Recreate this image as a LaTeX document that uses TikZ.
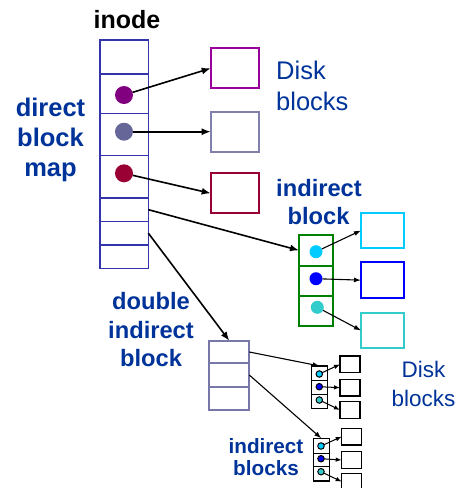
\documentclass[tikz,border=0pt]{standalone}
\usepackage{fontspec}
\setmainfont{Liberation Sans}
\usetikzlibrary{arrows.meta}
\definecolor{labelblue}{RGB}{0,51,153}
\definecolor{inodeblue}{RGB}{51,51,170}
\definecolor{dplum}{RGB}{153,0,153}
\definecolor{dslate}{RGB}{128,128,170}
\definecolor{dcrimson}{RGB}{153,0,51}
\definecolor{pplum}{RGB}{128,0,128}
\definecolor{pslate}{RGB}{102,102,153}
\definecolor{pcrimson}{RGB}{153,0,51}
\definecolor{igreen}{RGB}{0,128,0}
\definecolor{skycyan}{RGB}{0,204,255}
\definecolor{deepblue}{RGB}{0,0,255}
\definecolor{tealcyan}{RGB}{51,204,204}
\definecolor{dblgray}{RGB}{119,119,170}
\newcommand\lblsize[1]{\fontsize{#1}{#1}\selectfont}
\begin{document}
\begin{tikzpicture}[x=1pt,y=-1pt,
  cell/.style={draw=#1, rectangle, inner sep=0pt, outer sep=0pt, anchor=north west, line width=1.5pt},
  diskbox/.style={cell=#1, line width=2pt},
  dot/.style={circle, fill=#1, inner sep=0pt, outer sep=0pt, minimum size=18pt},
  gdot/.style={circle, fill=#1, inner sep=0pt, outer sep=0pt, minimum size=13pt},
  sdot/.style={circle, draw=black, line width=1pt, fill=#1, inner sep=0pt, outer sep=0pt, minimum size=6.5pt},
  ptr/.style={-{Latex[length=9pt,width=7pt]}, line width=1.6pt},
  midptr/.style={-{Latex[length=7pt,width=5pt]}, line width=1.1pt},
  smallptr/.style={-{Latex[length=6pt,width=4.5pt]}, line width=1pt},
  lbl/.style={inner sep=0pt, anchor=base, text=labelblue, font=\bfseries},
  plainlbl/.style={inner sep=0pt, text=labelblue}]
\useasboundingbox (0,0) rectangle (461,488);
\clip (0,0) rectangle (461,488);

% inode column
\node[cell=inodeblue, minimum width=48.3pt, minimum height=34pt]   (i1) at (100,40) {};
\node[cell=inodeblue, minimum width=48.3pt, minimum height=39.3pt] (i2) at (100,74) {};
\node[cell=inodeblue, minimum width=48.3pt, minimum height=42.4pt] (i3) at (100,113.3) {};
\node[cell=inodeblue, minimum width=48.3pt, minimum height=42.3pt] (i4) at (100,155.7) {};
\node[cell=inodeblue, minimum width=48.3pt, minimum height=23.3pt] (i5) at (100,198) {};
\node[cell=inodeblue, minimum width=48.3pt, minimum height=23.7pt] (i6) at (100,221.3) {};
\node[cell=inodeblue, minimum width=48.3pt, minimum height=23.3pt] (i7) at (100,245) {};

\node[dot=pplum]    (p1) at (124,95) {};
\node[dot=pslate]   (p2) at (124,131.7) {};
\node[dot=pcrimson] (p3) at (124,173.3) {};

% direct disk blocks
\node[diskbox=dplum,    minimum width=48.6pt, minimum height=40pt] (d1) at (210.7,48.3) {};
\node[diskbox=dslate,   minimum width=48.6pt, minimum height=40pt] (d2) at (210.7,111.7) {};
\node[diskbox=dcrimson, minimum width=48.6pt, minimum height=40pt] (d3) at (210.7,173.3) {};

\draw[ptr] (p1) -- (d1.west);
\draw[ptr] (p2) -- (d2.west);
\draw[ptr] (p3) -- (d3.west);

% single indirect block
\node[cell=igreen, line width=2pt, minimum width=34.3pt, minimum height=30.7pt] (g1) at (299,235) {};
\node[cell=igreen, line width=2pt, minimum width=34.3pt, minimum height=30.3pt] (g2) at (299,265.7) {};
\node[cell=igreen, line width=2pt, minimum width=34.3pt, minimum height=30pt]   (g3) at (299,296) {};
\node[gdot=skycyan]  (q1) at (316,251.7) {};
\node[gdot=deepblue] (q2) at (316,278.7) {};
\node[gdot=tealcyan] (q3) at (317.3,307.3) {};

\node[diskbox=skycyan,  minimum width=43.3pt, minimum height=35.6pt] (c1) at (361,212.7) {};
\node[diskbox=deepblue, minimum width=43.3pt, minimum height=35.7pt] (c2) at (361,262.3) {};
\node[diskbox=tealcyan, minimum width=43.3pt, minimum height=35.6pt] (c3) at (361,312.7) {};

\draw[midptr] (q1) -- (c1.west);
\draw[midptr] (q2) -- (c2.west);
\draw[midptr] (q3) -- (c3.west);

\draw[ptr] (i5.east) -- (g1.west);

% double indirect block
\node[cell=dblgray, line width=2pt, minimum width=40pt, minimum height=22.6pt] (b1) at (209.3,340.7) {};
\node[cell=dblgray, line width=2pt, minimum width=40pt, minimum height=23.4pt] (b2) at (209.3,363.3) {};
\node[cell=dblgray, line width=2pt, minimum width=40pt, minimum height=23.3pt] (b3) at (209.3,386.7) {};

\draw[ptr] (i6.east) -- (b1.north);

% first second-level indirect block
\node[cell=black, minimum width=16pt, minimum height=14.7pt] (sa1) at (311.7,366) {};
\node[cell=black, minimum width=16pt, minimum height=13.6pt] (sa2) at (311.7,380.7) {};
\node[cell=black, minimum width=16pt, minimum height=14pt]   (sa3) at (311.7,394.3) {};
\node[sdot=skycyan]  (ta1) at (319.3,374) {};
\node[sdot=deepblue] (ta2) at (319.3,386.7) {};
\node[sdot=tealcyan] (ta3) at (319.3,400) {};
\node[cell=black, minimum width=20pt, minimum height=16.7pt] (ka1) at (340,356) {};
\node[cell=black, minimum width=20pt, minimum height=16.7pt] (ka2) at (340,379.3) {};
\node[cell=black, minimum width=20pt, minimum height=16.6pt] (ka3) at (340,401.7) {};
\draw[smallptr] (ta1) -- (ka1.west);
\draw[smallptr] (ta2) -- (ka2.west);
\draw[smallptr] (ta3) -- (ka3.west);

% second second-level indirect block
\node[cell=black, minimum width=16pt, minimum height=15pt]   (sb1) at (313.3,438.3) {};
\node[cell=black, minimum width=16pt, minimum height=13.4pt] (sb2) at (313.3,453.3) {};
\node[cell=black, minimum width=16pt, minimum height=14.3pt] (sb3) at (313.3,466.7) {};
\node[sdot=skycyan]  (tb1) at (321,446) {};
\node[sdot=deepblue] (tb2) at (321,458.7) {};
\node[sdot=tealcyan] (tb3) at (321,471.7) {};
\node[cell=black, minimum width=20pt, minimum height=16.7pt] (kb1) at (341.7,428.3) {};
\node[cell=black, minimum width=20pt, minimum height=16.6pt] (kb2) at (341.7,451.7) {};
\node[cell=black, minimum width=20pt, minimum height=16.7pt] (kb3) at (341.7,473.3) {};
\draw[smallptr] (tb1) -- (kb1.west);
\draw[smallptr] (tb2) -- (kb2.west);
\draw[smallptr] (tb3) -- (kb3.west);

\draw[midptr] (b1.east) -- (sa1.north);
\draw[midptr] (b2.east) -- (sb1.north);

% labels
\node[lbl, text=black] (tinode) at (127,28.3) {\lblsize{25}inode};
\node[lbl] (tdbm1) at (50.5,116) {\lblsize{25.5}direct};
\node[lbl] (tdbm2) at (50.5,146) {\lblsize{25.5}block};
\node[lbl] (tdbm3) at (50.5,176) {\lblsize{25.5}map};
\node[plainlbl, anchor=base west] (tdisk1) at (276,79) {\lblsize{25.5}Disk};
\node[plainlbl, anchor=base west] (tdisk2) at (276,110) {\lblsize{25.5}blocks};
\node[lbl] (tind1) at (319,196) {\lblsize{23.7}indirect};
\node[lbl] (tind2) at (318.5,224) {\lblsize{23.7}block};
\node[lbl] (tdbl1) at (151,309) {\lblsize{23.7}double};
\node[lbl] (tdbl2) at (151,338) {\lblsize{23.7}indirect};
\node[lbl] (tdbl3) at (151,366) {\lblsize{23.7}block};
\node[plainlbl, anchor=base] (tdisk3) at (423.5,377) {\lblsize{22.5}Disk};
\node[plainlbl, anchor=base] (tdisk4) at (423.5,406.7) {\lblsize{22.5}blocks};
\node[lbl] (tinds1) at (266,453.3) {\lblsize{20.7}indirect};
\node[lbl] (tinds2) at (266,475) {\lblsize{20.7}blocks};
\end{tikzpicture}
\end{document}
